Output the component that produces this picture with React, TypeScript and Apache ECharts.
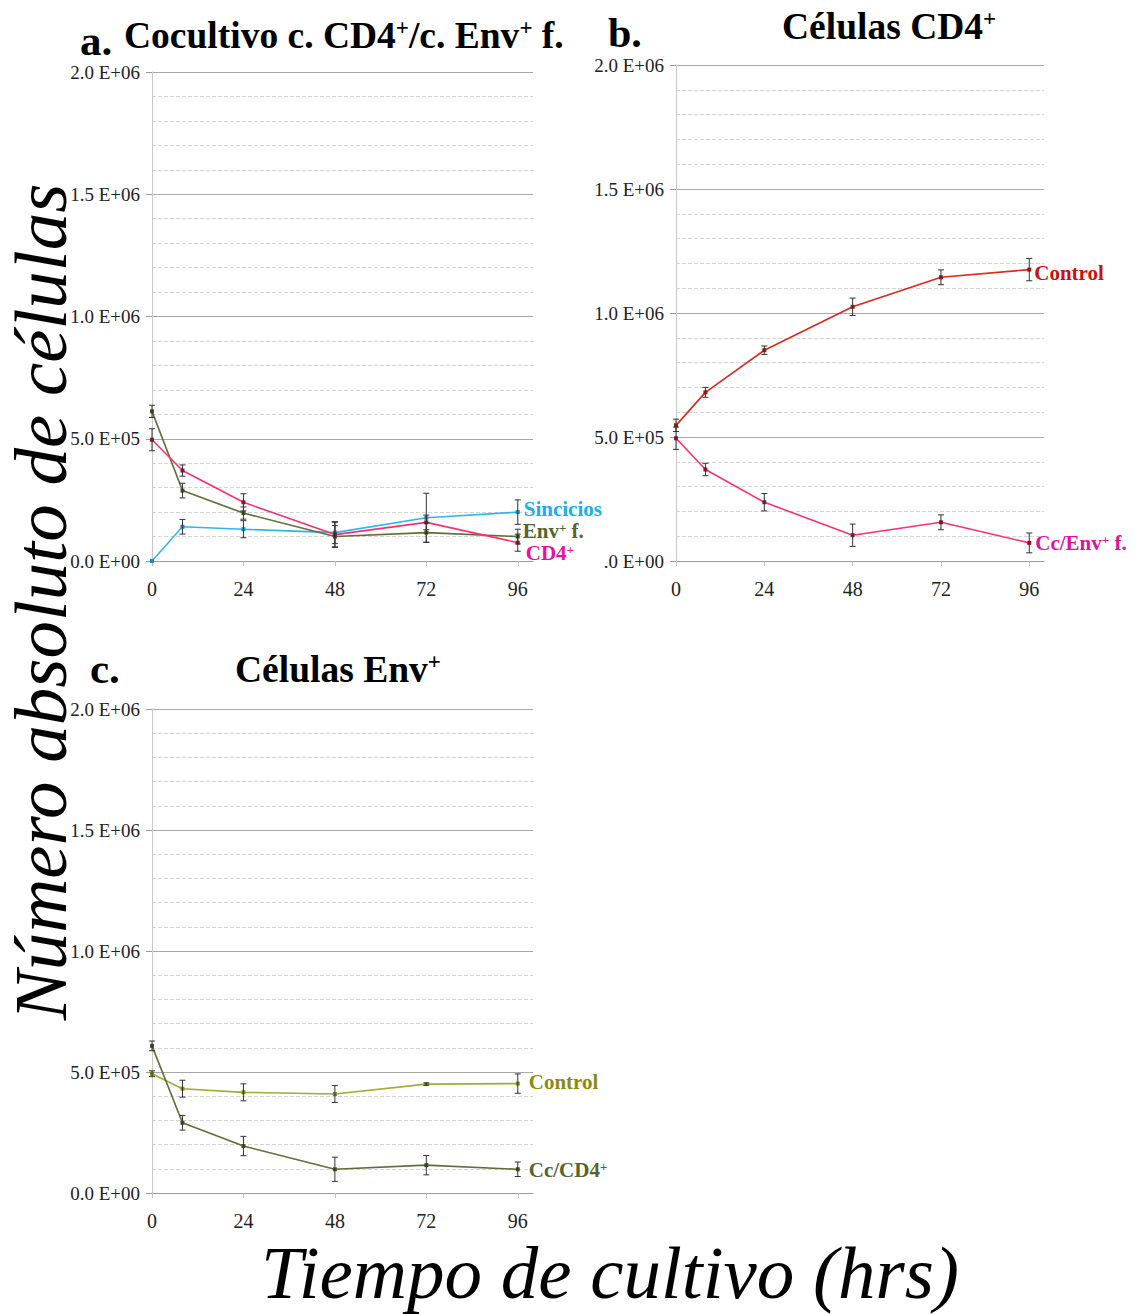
import React, { useEffect, useRef } from "react";
import * as echarts from "echarts";

// Sampling times (hours)
const hours = [0, 8, 24, 48, 72, 96];
const hourTicks = [0, 24, 48, 72, 96];

// a. Co-culture of CD4+ cells with fused Env+ cells
const cocSincicios = [0, 140000, 130000, 116000, 177000, 200000];
const cocSinciciosErr = [0, 30000, 35000, 45000, 100000, 50000];
const cocEnvF = [612000, 288000, 196000, 100000, 116000, 100000];
const cocEnvFErr = [25000, 30000, 25000, 45000, 40000, 30000];
const cocCD4 = [496000, 370000, 240000, 108000, 158000, 75000];
const cocCD4Err = [45000, 23000, 35000, 50000, 30000, 35000];

// b. CD4+ cells
const cd4Control = [547000, 680000, 850000, 1025000, 1144000, 1175000];
const cd4ControlErr = [25000, 20000, 17000, 35000, 30000, 45000];
const cd4CcEnv = [495000, 369000, 237000, 104000, 156000, 73000];
const cd4CcEnvErr = [45000, 25000, 35000, 45000, 30000, 40000];

// c. Env+ cells
const envControl = [493000, 431000, 416000, 409000, 450000, 452000];
const envControlErr = [12000, 35000, 35000, 35000, 5000, 40000];
const envCcCD4 = [608000, 290000, 194000, 98000, 115000, 98000];
const envCcCD4Err = [20000, 30000, 40000, 50000, 40000, 30000];

// y tick labels
const yTickLabels: Record<number, string> = {
  0: "0.0 E+00",
  500000: "5.0 E+05",
  1000000: "1.0 E+06",
  1500000: "1.5 E+06",
  2000000: "2.0 E+06",
};
const yTickLabelsB: Record<number, string> = { ...yTickLabels, 0: ".0 E+00" };

const SERIF = "'Liberation Serif', 'Times New Roman', serif";

const supRich = (size: number, color: string, lineHeight = size) => ({
  t: { fontSize: size, lineHeight, fontFamily: SERIF, fontWeight: "bold", color },
  s: {
    fontSize: Math.round(size * 0.6),
    fontFamily: SERIF,
    fontWeight: "bold",
    color,
    verticalAlign: "top",
  },
});

export default function App() {
  const ref = useRef<HTMLDivElement>(null);

  useEffect(() => {
    if (!ref.current) return;
    const chart = echarts.init(ref.current, undefined, { renderer: "svg" });

    const grids = [
      { left: 152, top: 72, width: 381, height: 489 },
      { left: 676, top: 65, width: 368, height: 496 },
      { left: 152, top: 709, width: 381, height: 484 },
    ];

    const xAxes = grids.map((_, i) => ({
      gridIndex: i,
      type: "value",
      min: 0,
      max: 100,
      interval: 24,
      axisLine: { show: true, lineStyle: { color: "#9a9a9a", width: 1 } },
      axisTick: {
        show: true,
        length: 5,
        customValues: hourTicks,
        lineStyle: { color: "#c0c0c0" },
      },
      splitLine: { show: false },
      axisLabel: {
        customValues: hourTicks,
        margin: 18,
        fontFamily: SERIF,
        fontSize: 20,
        color: "#222",
      },
    }));

    const yAxes = grids.map((_, i) => ({
      gridIndex: i,
      type: "value",
      min: 0,
      max: 2000000,
      interval: 500000,
      axisLine: { show: true, onZero: false, lineStyle: { color: "#c8c8c8", width: 1 } },
      axisTick: { show: true, length: 6, lineStyle: { color: "#9a9a9a" } },
      splitLine: { show: true, lineStyle: { color: "#a8a8a8", width: 1 } },
      minorTick: { show: false, splitNumber: 5 },
      minorSplitLine: { show: true, lineStyle: { color: "#d4d4d4", type: "dashed", width: 1 } },
      axisLabel: {
        margin: 12,
        fontFamily: SERIF,
        fontSize: 19,
        color: "#222",
        formatter: (v: number) => (i === 1 ? yTickLabelsB[v] : yTickLabels[v]) ?? "",
      },
    }));

    const lineSeries = (
      idx: number,
      name: string,
      values: number[],
      color: string,
      dot: string,
      label: string,
      labelColor: string,
      offset: [number, number],
      distance: number
    ) => ({
      type: "line",
      name,
      xAxisIndex: idx,
      yAxisIndex: idx,
      data: hours.map((h, i) => [h, values[i]]),
      symbol: "rect",
      symbolSize: 4,
      showSymbol: true,
      lineStyle: { color, width: 1.6 },
      itemStyle: { color: dot },
      z: 2,
      endLabel: {
        show: true,
        distance,
        offset,
        formatter: label,
        rich: supRich(21, labelColor, 20),
      },
    });

    const errSeries = (idx: number, values: number[], errs: number[]) => ({
      type: "custom",
      xAxisIndex: idx,
      yAxisIndex: idx,
      z: 3,
      silent: true,
      data: hours
        .map((h, i) => [h, values[i] - errs[i], values[i] + errs[i]])
        .filter((d, i) => errs[i] > 0),
      renderItem: (_params: any, api: any) => {
        const x = api.value(0);
        const top = api.coord([x, api.value(2)]);
        const bot = api.coord([x, api.value(1)]);
        const w = 3;
        const st = { stroke: "#333", lineWidth: 1 };
        return {
          type: "group",
          children: [
            { type: "line", shape: { x1: top[0], y1: top[1], x2: bot[0], y2: bot[1] }, style: st },
            { type: "line", shape: { x1: top[0] - w, y1: top[1], x2: top[0] + w, y2: top[1] }, style: st },
            { type: "line", shape: { x1: bot[0] - w, y1: bot[1], x2: bot[0] + w, y2: bot[1] }, style: st },
          ],
        };
      },
    });

    const series = [
      lineSeries(0, "Sincicios", cocSincicios, "#2fb6ec", "#1a8fc8", "{t|Sincicios}", "#18aef0", [0, -3], 6),
      lineSeries(0, "Env+ f.", cocEnvF, "#5f6e36", "#44521f", "{t|Env}{s|+}{t| f.}", "#55652b", [0, -6], 5),
      lineSeries(0, "CD4+", cocCD4, "#ff2f72", "#a0102a", "{t|CD4}{s|+}", "#e5129c", [0, 10], 8),
      errSeries(0, cocSincicios, cocSinciciosErr),
      errSeries(0, cocEnvF, cocEnvFErr),
      errSeries(0, cocCD4, cocCD4Err),
      lineSeries(1, "Control", cd4Control, "#d92a1f", "#a01810", "{t|Control}", "#cc1010", [0, 3], 5),
      lineSeries(1, "Cc/Env+ f.", cd4CcEnv, "#ff2f78", "#a0102a", "{t|Cc/Env}{s|+}{t| f.}", "#e0129a", [0, 0], 6),
      errSeries(1, cd4Control, cd4ControlErr),
      errSeries(1, cd4CcEnv, cd4CcEnvErr),
      lineSeries(2, "Control", envControl, "#a2ac34", "#7d8a1c", "{t|Control}", "#8a8c12", [0, -2], 11),
      lineSeries(2, "Cc/CD4+", envCcCD4, "#5f6e36", "#44521f", "{t|Cc/CD4}{s|+}", "#55652b", [0, 1], 11),
      errSeries(2, envControl, envControlErr),
      errSeries(2, envCcCD4, envCcCD4Err),
    ];

    const titleText = (x: number, y: number, text: string, size: number, lh = size) => ({
      type: "text",
      x,
      y,
      style: {
        text,
        verticalAlign: "middle",
        rich: supRich(size, "#000", lh),
      },
    });

    const graphic = [
      titleText(80, 40, "{t|a.}", 43, 28),
      titleText(124, 35, "{t|Cocultivo c. CD4}{s|+}{t|/c. Env}{s|+}{t| f.}", 37.5),
      titleText(608, 33, "{t|b.}", 42, 24),
      titleText(782, 26, "{t|Células CD4}{s|+}", 37.5),
      titleText(90, 668, "{t|c.}", 43, 28),
      titleText(235, 669, "{t|Células Env}{s|+}", 37.5),
      {
        type: "text",
        x: 40,
        y: 602,
        rotation: Math.PI / 2,
        style: {
          text: "Número absoluto de células",
          fontFamily: SERIF,
          fontStyle: "italic",
          fontSize: 75,
          lineHeight: 72,
          fill: "#000",
          align: "center",
          verticalAlign: "middle",
        },
      },
      {
        type: "text",
        x: 610,
        y: 1272,
        style: {
          text: "Tiempo de cultivo (hrs)",
          fontFamily: SERIF,
          fontStyle: "italic",
          fontSize: 75,
          lineHeight: 75,
          fill: "#000",
          align: "center",
          verticalAlign: "middle",
        },
      },
    ];

    chart.setOption({
      animation: false,
      backgroundColor: "#fff",
      grid: grids,
      xAxis: xAxes,
      yAxis: yAxes,
      series,
      graphic,
    } as any);

    return () => chart.dispose();
  }, []);

  return (
    <div
      ref={ref}
      style={{ position: "absolute", left: 0, top: 0, width: 1135, height: 1314 }}
    />
  );
}
